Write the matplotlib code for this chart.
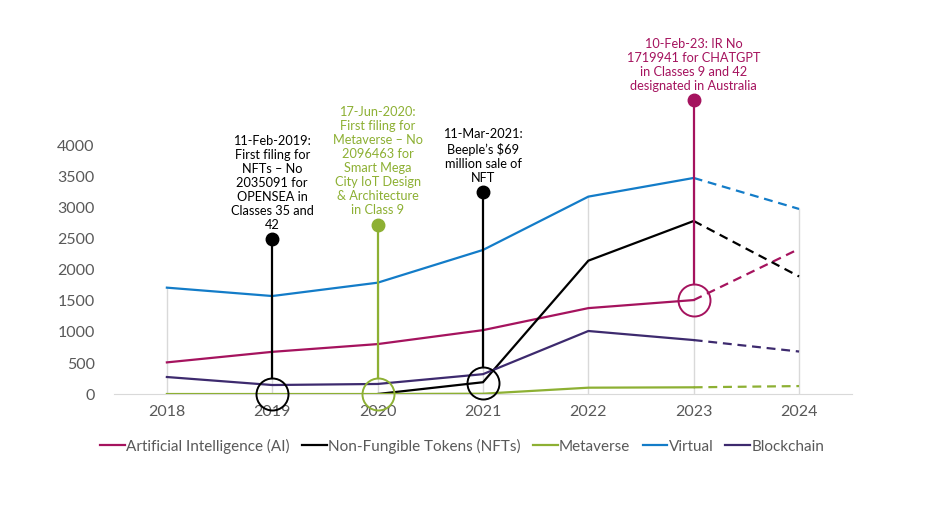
import numpy as np
import matplotlib
matplotlib.use("Agg")
import matplotlib.pyplot as plt

plt.rcParams['font.family'] = ['Lato', 'DejaVu Sans']

years = [2018, 2019, 2020, 2021, 2022, 2023, 2024]
ai = [510, 680, 805, 1030, 1385, 1515, 2340]
nfts = [np.nan, np.nan, 0, 190, 2150, 2790, 1895]
metaverse = [0, 0, 0, 5, 102, 108, 128]
virtual = [1715, 1580, 1795, 2323, 3183, 3484, 2984]
blockchain = [274, 145, 162, 320, 1016, 870, 685]

series_names = ['Artificial Intelligence (AI)', 'Non-Fungible Tokens (NFTs)',
                'Metaverse', 'Virtual', 'Blockchain']
series_vals = [ai, nfts, metaverse, virtual, blockchain]
series_cols = ['#A5135E', '#000000', '#8DB033', '#137CC8', '#3D2A6E']

# annotated events: x, circle centre value, dot value, text, colour
ev_x = [2019, 2020, 2021, 2023]
ev_base = [0, 0, 180, 1510]
ev_top = [2500, 2730, 3260, 4740]
ev_text = [
    "11-Feb-2019:\nFirst filing for\nNFTs \u2013 No\n2035091 for\nOPENSEA in\nClasses 35 and\n42",
    "17-Jun-2020:\nFirst filing for\nMetaverse \u2013 No\n2096463 for\nSmart Mega\nCity IoT Design\n& Architecture\nin Class 9",
    "11-Mar-2021:\nBeeple\u2019s $69\nmillion sale of\nNFT",
    "10-Feb-23: IR No\n1719941 for CHATGPT\nin Classes 9 and 42\ndesignated in Australia",
]
ev_cols = ['#000000', '#8DB033', '#000000', '#A5135E']

fig = plt.figure(figsize=(9.36, 5.25), dpi=100)
ax = fig.add_axes([0.122, 0.2495, 0.788, 0.4725])
ax.set_xlim(2017.5, 2024.5)
ax.set_ylim(0, 4000)

# drop lines
for i, yr in enumerate(years):
    top = np.nanmax([s[i] for s in series_vals])
    ax.plot([yr, yr], [0, top], color='#D9D9D9', lw=1, zorder=1)

for name, vals, col in zip(series_names, series_vals, series_cols):
    v = np.array(vals, dtype=float)
    ax.plot(years[:6], v[:6], color=col, lw=1.6, label=name, zorder=3,
            solid_joinstyle='miter')
    ax.plot(years[5:], v[5:], color=col, lw=1.6, ls=(0, (4, 2.6)), zorder=3)

# events
ax_h_px = 0.4725 * 525
px_per_unit = ax_h_px / 4000
r_px = 16
for x, b, t, txt, c in zip(ev_x, ev_base, ev_top, ev_text, ev_cols):
    ax.plot([x], [b], marker='o', ms=r_px * 2 * 0.72, mfc='none', mec=c,
            mew=1.4, clip_on=False, zorder=5)
    ax.plot([x, x], [b + r_px / px_per_unit, t], color=c, lw=1.6,
            clip_on=False, zorder=5)
    ax.plot([x], [t], marker='o', ms=9, color=c, clip_on=False, zorder=6)
    ax.annotate(txt, (x, t), xytext=(0, 6), textcoords='offset points',
                ha='center', va='bottom', color=c, fontsize=9.2,
                linespacing=1.2, annotation_clip=False)

for s in ['top', 'right', 'left']:
    ax.spines[s].set_visible(False)
ax.spines['bottom'].set_color('#D9D9D9')
ax.set_yticks(np.arange(0, 4001, 500))
ax.set_xticks(years)
ax.tick_params(length=0, labelsize=11.5, colors='#595959', pad=8)
ax.tick_params(axis='y', pad=14)

leg = fig.legend(*ax.get_legend_handles_labels(), loc='center',
                 bbox_to_anchor=(0.494, 0.150), ncol=5, frameon=False,
                 fontsize=11, handlelength=1.6, handletextpad=0.1,
                 columnspacing=0.8)
for t in leg.get_texts():
    t.set_color('#595959')

fig.savefig('out.png', dpi=100)
